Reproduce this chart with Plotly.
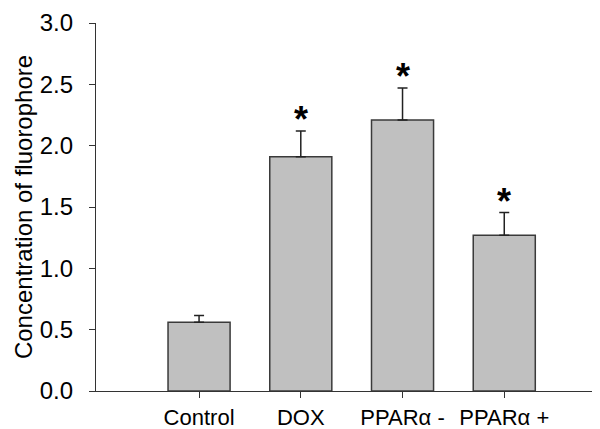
import plotly.graph_objects as go

categories = ["Control", "DOX", "PPARα -", "PPARα +"]
means = [0.56, 1.91, 2.21, 1.27]
errors = [0.055, 0.21, 0.26, 0.185]
significant = [False, True, True, True]

FONT = "Liberation Sans, Arial, sans-serif"

fig = go.Figure()
fig.add_trace(go.Bar(
    x=list(range(len(categories))),
    y=means,
    width=0.61,
    marker=dict(color="#c0c0c0", line=dict(color="#3a3a3a", width=1.5)),
    error_y=dict(type="data", array=errors, arrayminus=[0] * len(errors),
                 symmetric=False, color="#222222", thickness=1.5, width=5),
    showlegend=False,
))

for i, (m, e, s) in enumerate(zip(means, errors, significant)):
    if s:
        fig.add_annotation(x=i, y=m + e, text="<b>*</b>", showarrow=False,
                           yanchor="bottom", yshift=-11,
                           font=dict(family=FONT, size=36, color="black"))

fig.update_layout(
    width=600, height=429,
    margin=dict(l=88, r=2, t=15, b=46),
    paper_bgcolor="white", plot_bgcolor="white",
    font=dict(family=FONT, color="black"),
    xaxis=dict(
        range=[-1.013, 4.0],
        tickmode="array", tickvals=list(range(len(categories))), ticktext=categories,
        ticks="outside", ticklen=6, tickwidth=1.2, tickcolor="#333",
        showline=True, linecolor="#333", linewidth=1.2,
        showgrid=False, zeroline=False,
        tickfont=dict(size=22, family=FONT, color="black"),
    ),
    yaxis=dict(
        range=[0, 3.0],
        tickmode="array", tickvals=[0, 0.5, 1.0, 1.5, 2.0, 2.5, 3.0],
        ticktext=["0.0", "0.5", "1.0", "1.5", "2.0", "2.5", "3.0"],
        ticks="outside", ticklen=6, tickwidth=1.2, tickcolor="#333",
        ticklabelstandoff=11,
        showline=True, linecolor="#333", linewidth=1.2,
        showgrid=False, zeroline=False,
        tickfont=dict(size=24, family=FONT, color="black"),
        title=dict(text="Concentration of fluorophore", standoff=0,
                   font=dict(size=24, family=FONT, color="black")),
    ),
)

fig.write_html("out.html")
